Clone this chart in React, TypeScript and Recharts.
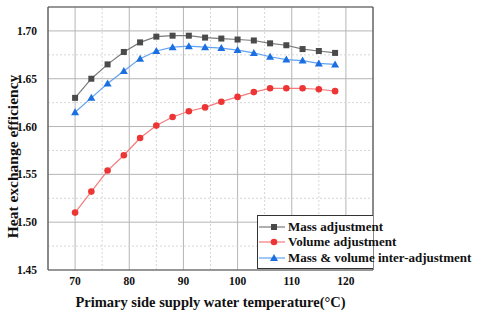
import { LineChart, Line, XAxis, YAxis, CartesianGrid, ReferenceLine, Label } from "recharts";

const temps = [70, 73, 76, 79, 82, 85, 88, 91, 94, 97, 100, 103, 106, 109, 112, 115, 118];
const massAdj = [1.63, 1.65, 1.665, 1.678, 1.688, 1.694, 1.695, 1.695, 1.693, 1.692, 1.691, 1.69, 1.687, 1.685, 1.681, 1.679, 1.677];
const volumeAdj = [1.51, 1.532, 1.554, 1.57, 1.588, 1.601, 1.61, 1.616, 1.62, 1.626, 1.631, 1.636, 1.64, 1.64, 1.64, 1.639, 1.637];
const interAdj = [1.615, 1.63, 1.645, 1.658, 1.671, 1.679, 1.683, 1.684, 1.683, 1.682, 1.68, 1.677, 1.673, 1.67, 1.669, 1.666, 1.665];

const xTicks = [70, 80, 90, 100, 110, 120];
const xMinor = [75, 85, 95, 105, 115];
const yTicks = [1.45, 1.5, 1.55, 1.6, 1.65, 1.7];
const yMinor = [1.475, 1.525, 1.575, 1.625, 1.675];
const X_DOMAIN = [65, 125];
const Y_DOMAIN = [1.45, 1.725];

const data = temps.map((t, i) => ({
  t,
  mass: massAdj[i],
  volume: volumeAdj[i],
  inter: interAdj[i],
}));

const FONT = "'Liberation Serif', 'Times New Roman', serif";

const series = [
  { key: "mass", name: "Mass adjustment", marker: "#4a4a4a", line: "#7a7a7a", shape: "square" },
  { key: "volume", name: "Volume adjustment", marker: "#ee3535", line: "#f37b7b", shape: "circle" },
  { key: "inter", name: "Mass & volume inter-adjustment", marker: "#1b6fe0", line: "#62a2f2", shape: "triangle" },
];

function Marker({ shape, color, cx, cy }: { shape: string; color: string; cx: number; cy: number }) {
  if (shape === "square") return <rect x={cx - 3} y={cy - 3} width={6} height={6} fill={color} />;
  if (shape === "circle") return <circle cx={cx} cy={cy} r={3.3} fill={color} />;
  return <polygon points={`${cx},${cy - 4} ${cx - 4},${cy + 3} ${cx + 4},${cy + 3}`} fill={color} />;
}

function LegendBox() {
  return (
    <div
      style={{
        position: "absolute",
        left: 257,
        top: 215,
        border: "1px solid #333",
        borderRight: "none",
        background: "#fff",
        width: 116,
        height: 54,
        boxSizing: "border-box",
        paddingTop: 3,
        fontFamily: FONT,
        fontWeight: "bold",
        fontSize: 13,
        color: "#111",
        whiteSpace: "nowrap",
      }}
    >
      {series.map((s) => (
        <div key={s.key} style={{ display: "flex", alignItems: "center", height: 15.5 }}>
          <svg width={30} height={12} style={{ flex: "none" }}>
            <line x1={1} y1={6} x2={27} y2={6} stroke={s.line} strokeWidth={1.2} />
            <Marker shape={s.shape} color={s.marker} cx={16} cy={6} />
          </svg>
          <span>{s.name}</span>
        </div>
      ))}
    </div>
  );
}

export default function App() {
  const tickStyle = { fontFamily: FONT, fontWeight: "bold", fontSize: 11.5, fill: "#111" };
  return (
    <div style={{ position: "absolute", left: 0, top: 0, width: 480, height: 312, background: "#fff" }}>
      <LineChart width={480} height={312} data={data} margin={{ top: 7, right: 107, left: 0, bottom: 0 }}>
        <CartesianGrid stroke="#b5b5b5" strokeWidth={1} />
        {xMinor.map((v) => (
          <ReferenceLine key={"x" + v} x={v} stroke="#d6d6d6" strokeDasharray="2 2" />
        ))}
        {yMinor.map((v) => (
          <ReferenceLine key={"y" + v} y={v} stroke="#d6d6d6" strokeDasharray="2 2" />
        ))}
        <ReferenceLine x={X_DOMAIN[1]} stroke="#555" strokeWidth={1.2} />
        <ReferenceLine y={Y_DOMAIN[1]} stroke="#555" strokeWidth={1.2} />
        <XAxis
          dataKey="t"
          type="number"
          domain={X_DOMAIN}
          ticks={xTicks}
          height={42}
          tick={tickStyle}
          tickLine={false}
          tickMargin={1}
          axisLine={{ stroke: "#555", strokeWidth: 1.2 }}
        >
          <Label
            value="Primary side supply water temperature(°C)"
            position="insideBottom"
            offset={5}
            style={{ fontFamily: FONT, fontWeight: "bold", fontSize: 14.5, fill: "#111" }}
          />
        </XAxis>
        <YAxis
          type="number"
          domain={Y_DOMAIN}
          ticks={yTicks}
          width={48}
          tick={tickStyle}
          tickLine={false}
          tickMargin={5}
          tickFormatter={(v: number) => v.toFixed(2)}
          axisLine={{ stroke: "#555", strokeWidth: 1.2 }}
        >
          <Label
            value="Heat exchange efficiency"
            angle={-90}
            position="center"
            dx={-12}
            dy={18}
            style={{ fontFamily: FONT, fontWeight: "bold", fontSize: 15.5, fill: "#111", textAnchor: "middle" }}
          />
        </YAxis>
        {series.map((s) => (
          <Line
            key={s.key}
            dataKey={s.key}
            name={s.name}
            stroke={s.line}
            strokeWidth={1.2}
            isAnimationActive={false}
            dot={(p: any) => <Marker key={p.index} shape={s.shape} color={s.marker} cx={p.cx} cy={p.cy} />}
            activeDot={false}
          />
        ))}
      </LineChart>
      <LegendBox />
    </div>
  );
}
